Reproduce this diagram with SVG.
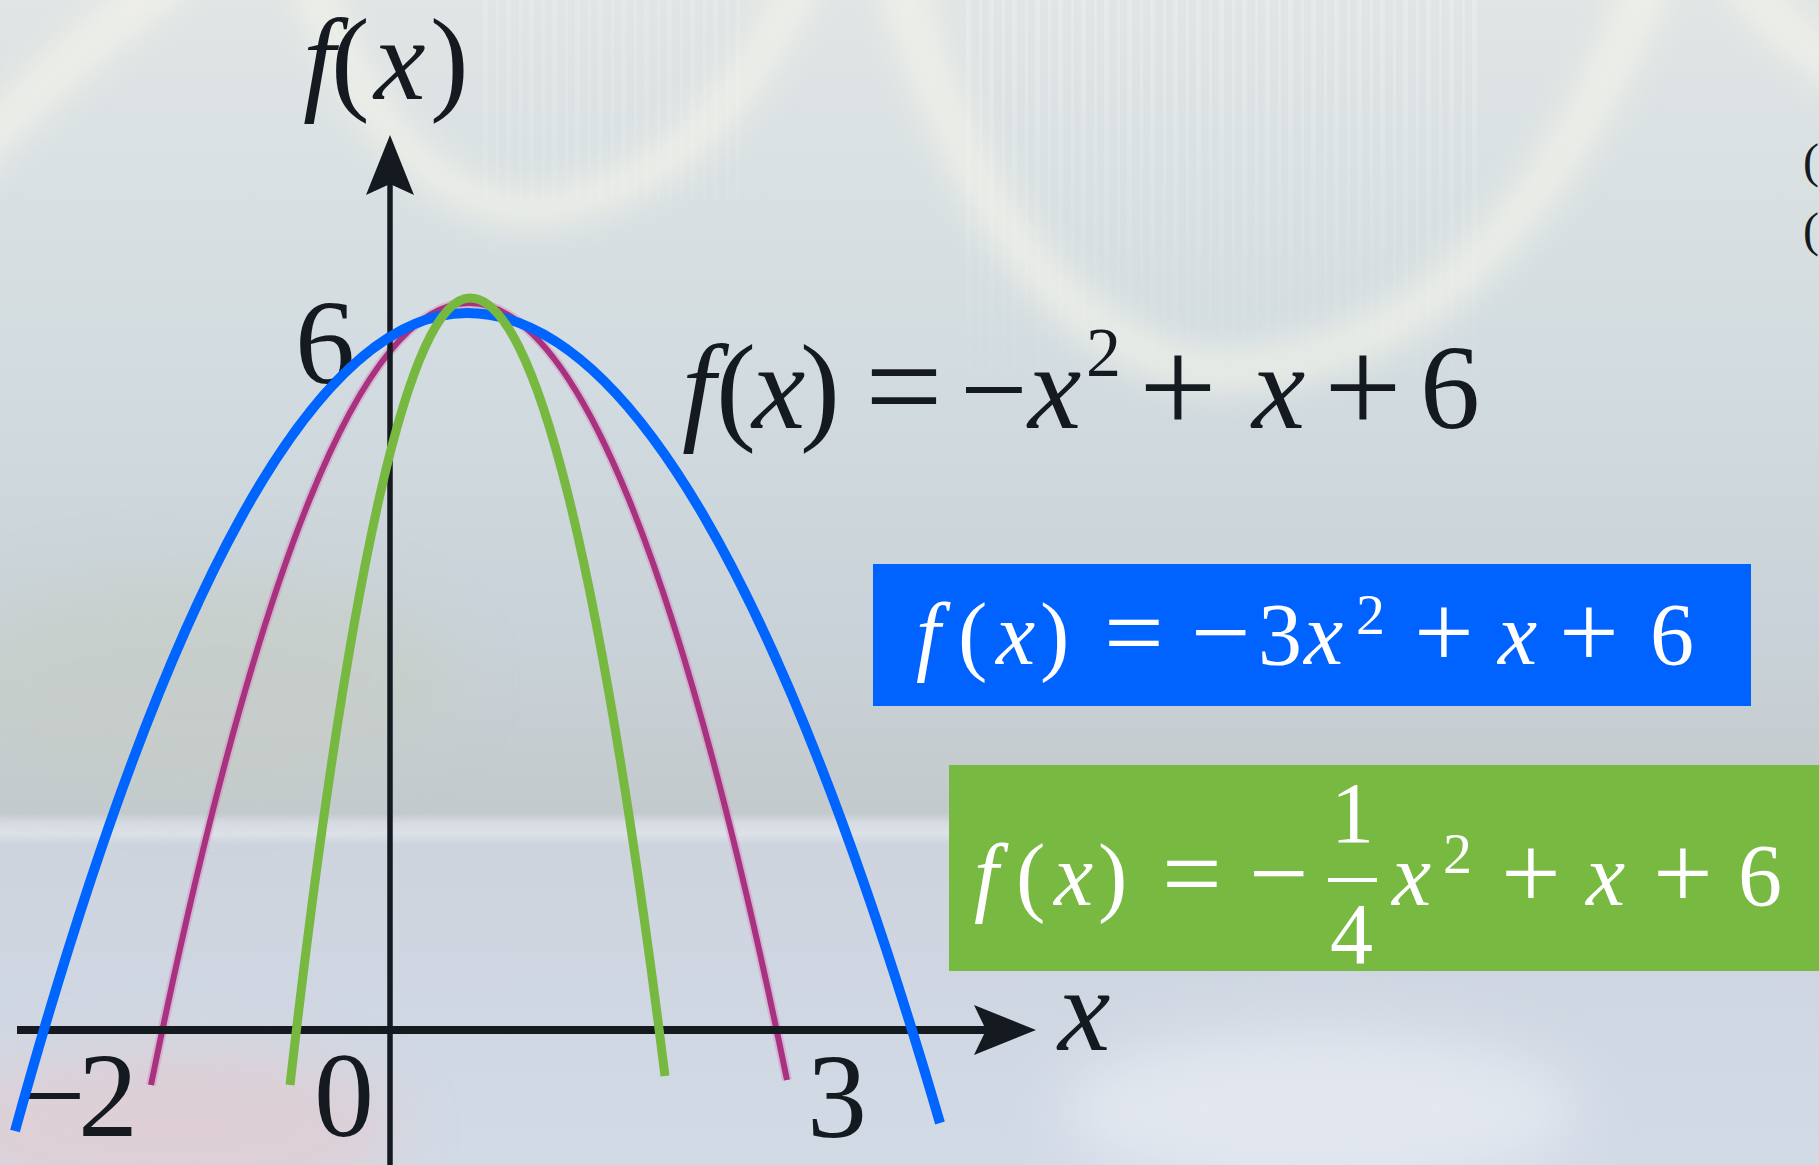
<svg xmlns="http://www.w3.org/2000/svg" width="1819" height="1165" viewBox="0 0 1819 1165">
<style>
.ser{font-family:"Liberation Serif","Times New Roman",serif;}
.blk{fill:#141a20;}
.wht{fill:#ffffff;}
.it{font-style:italic;}
.curve{fill:none;stroke-linecap:butt;}
</style>
<defs>
<linearGradient id="bg" x1="0" y1="0" x2="0" y2="1">
<stop offset="0" stop-color="#e0e5e5"/>
<stop offset="0.3" stop-color="#d3dce0"/>
<stop offset="0.55" stop-color="#c9d2d8"/>
<stop offset="0.698" stop-color="#c3cacd"/>
<stop offset="0.706" stop-color="#d6dbe2"/>
<stop offset="0.716" stop-color="#dde1e8"/>
<stop offset="0.725" stop-color="#cdd4de"/>
<stop offset="1" stop-color="#d2dae6"/>
</linearGradient>
<linearGradient id="fade" x1="0" y1="0" x2="0" y2="1">
<stop offset="0" stop-color="#ffffff" stop-opacity="0.35"/>
<stop offset="1" stop-color="#ffffff" stop-opacity="0"/>
</linearGradient>
<pattern id="streaks" x="0" y="0" width="23" height="400" patternUnits="userSpaceOnUse">
<rect x="0" y="0" width="5" height="400" fill="url(#fade)"/>
<rect x="13" y="0" width="3" height="400" fill="url(#fade)"/>
</pattern>
<filter id="blur" x="-20%" y="-20%" width="140%" height="140%"><feGaussianBlur stdDeviation="16"/></filter>
<filter id="blur2" x="-50%" y="-50%" width="200%" height="200%"><feGaussianBlur stdDeviation="30"/></filter>
</defs>

<g id="background">
<rect x="0" y="0" width="1819" height="1165" fill="url(#bg)"/>
<rect x="960" y="0" width="520" height="380" fill="url(#streaks)" opacity="0.6"/>
<rect x="480" y="0" width="260" height="200" fill="url(#streaks)" opacity="0.4"/>
<g filter="url(#blur)" fill="none" stroke="#f8f7ea" stroke-linecap="round" opacity="0.6">
<path d="M-30,160 Q50,70 170,-20" stroke-width="44"/>
<path d="M310,-20 Q390,200 530,210 Q710,190 800,-20" stroke-width="38"/>
<path d="M900,-20 Q1000,330 1200,370 Q1490,380 1650,-20" stroke-width="44"/>
<path d="M1740,-20 Q1790,40 1840,70" stroke-width="40"/>
</g>
<ellipse cx="200" cy="680" rx="260" ry="110" fill="#c6ccc2" opacity="0.5" filter="url(#blur2)"/>
<ellipse cx="170" cy="1130" rx="230" ry="80" fill="#e6c9cc" opacity="0.6" filter="url(#blur2)"/>
<ellipse cx="1320" cy="1110" rx="260" ry="80" fill="#eef1f7" opacity="0.6" filter="url(#blur2)"/>
</g>

<g id="curve-original">
<path class="curve" d="M151,1085 Q310,303 469,303 Q628,303 787,1080" stroke="#d58ac0" stroke-width="10" opacity="0.45"/>
<path class="curve" d="M151,1085 Q310,303 469,303 Q628,303 787,1080" stroke="#a8327f" stroke-width="6"/>
</g>

<g id="axes">
<line x1="390" y1="180" x2="390" y2="1165" stroke="#141a20" stroke-width="5.5"/>
<polygon points="390,135 414,195 390,184 366,195" fill="#141a20"/>
<line x1="17" y1="1030" x2="990" y2="1030" stroke="#141a20" stroke-width="8"/>
<polygon points="1036,1030 974,1055 986,1030 974,1005" fill="#141a20"/>
</g>

<g id="axis-labels" class="ser blk" font-size="116">
<text x="303" y="99"><tspan class="it">f</tspan><tspan x="331">(</tspan><tspan class="it" x="374">x</tspan><tspan x="430">)</tspan></text>
<text x="295" y="383" font-size="120">6</text>
<text x="1058" y="1050" font-size="118" class="it">x</text>
<text x="18" y="1136" font-size="120">−<tspan x="78">2</tspan></text>
<text x="314" y="1136" font-size="120">0</text>
<text x="807" y="1137" font-size="120">3</text>
<text x="1803" y="177" font-size="48">(</text>
<text x="1803" y="246" font-size="48">(</text>
</g>

<g id="label-original" class="ser blk" font-size="120">
<text y="428"><tspan x="682" class="it">f</tspan><tspan x="716">(</tspan><tspan x="752" class="it">x</tspan><tspan x="800">)</tspan><tspan x="865" y="433" font-size="138">=</tspan><tspan x="960" y="430" font-size="120">−</tspan><tspan x="1028" y="428" class="it">x</tspan><tspan x="1086" y="376" font-size="70">2</tspan><tspan x="1139" y="433" font-size="138">+</tspan><tspan x="1252" y="428" class="it">x</tspan><tspan x="1324" y="433" font-size="138">+</tspan><tspan x="1420" y="428">6</tspan></text>
</g>

<g id="curve-blue">
<path class="curve" d="M15,1131 Q241,313 467,313 Q703.5,313 940,1123" stroke="#0064ff" stroke-width="10"/>
</g>

<g id="curve-green">
<path class="curve" d="M290,1085 Q380,298 470,298 Q567.5,298 665,1076" stroke="#77b940" stroke-width="9"/>
</g>

<g id="box-blue">
<rect x="873" y="564" width="878" height="142" fill="#0062ff"/>
<text class="ser wht" font-size="88" y="664"><tspan x="916" class="it">f</tspan><tspan x="958">(</tspan><tspan x="996" class="it">x</tspan><tspan x="1040">)</tspan><tspan x="1104" y="668" font-size="106">=</tspan><tspan x="1191" font-size="106">−</tspan><tspan x="1258" y="664">3</tspan><tspan x="1304" class="it">x</tspan><tspan x="1356" y="634" font-size="58">2</tspan><tspan x="1414" y="668" font-size="106">+</tspan><tspan x="1498" y="664" class="it">x</tspan><tspan x="1559" y="668" font-size="106">+</tspan><tspan x="1650" y="664">6</tspan></text>
</g>

<g id="box-green">
<rect x="949" y="765" width="870" height="206" fill="#78b942"/>
<text class="ser wht" font-size="88" y="905"><tspan x="974" class="it">f</tspan><tspan x="1016">(</tspan><tspan x="1054" class="it">x</tspan><tspan x="1098">)</tspan><tspan x="1162" y="909" font-size="106">=</tspan><tspan x="1249" font-size="106">−</tspan><tspan x="1392" y="905" class="it">x</tspan><tspan x="1443" y="873" font-size="58">2</tspan><tspan x="1501" y="909" font-size="106">+</tspan><tspan x="1586" y="905" class="it">x</tspan><tspan x="1653" y="909" font-size="106">+</tspan><tspan x="1738" y="905">6</tspan></text>
<text class="ser wht" font-size="86" x="1331" y="842">1</text>
<line x1="1328" y1="880" x2="1377" y2="880" stroke="#ffffff" stroke-width="4"/>
<text class="ser wht" font-size="86" x="1330" y="963">4</text>
</g>
</svg>
